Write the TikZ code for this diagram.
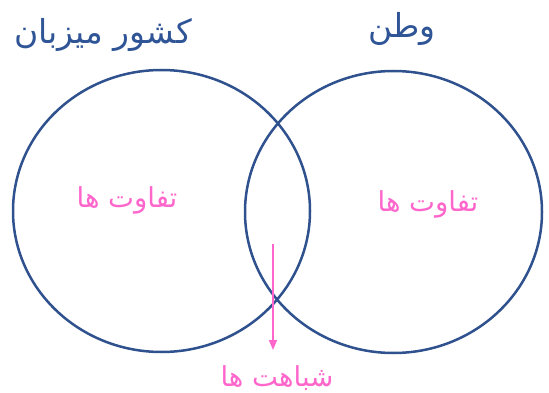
\documentclass[tikz,border=0pt]{standalone}
\usepackage{fontspec}
\usepackage{tikz}
\usetikzlibrary{shapes.geometric,arrows.meta}
\TeXXeTstate=1
\newfontfamily\arabicfont[Script=Arabic]{DejaVu Sans}
\definecolor{ringblue}{RGB}{47,82,143}
\definecolor{textblue}{RGB}{47,85,151}
\definecolor{notepink}{RGB}{255,102,204}
\tikzset{
  ring/.style={ellipse, draw=ringblue, line width=2.5pt, inner sep=0pt,
    minimum width=297pt, minimum height=282pt},
  title/.style={text=textblue, font=\arabicfont\fontsize{33}{38}\selectfont},
  note/.style={text=notepink, font=\arabicfont\fontsize{27.5}{32}\selectfont}
}
\begin{document}
\begin{tikzpicture}[x=1pt, y=1pt]
      \useasboundingbox (0, 0) rectangle (549, -393);
      \node[ring] (host) at (161.5, -211) {};
      \node[ring] (home) at (393.5, -212) {};

      \node[title] (hostname) at (103, -35) {\beginR کشور میزبان\endR};
      \node[title] (homename) at (402, -29) {\beginR وطن\endR};

      \node[note] (hostdiff) at (127, -200) {\beginR تفاوت ها\endR};
      \node[note] (homediff) at (428, -204) {\beginR تفاوت ها\endR};
      \node[note] (same) at (277, -378) {\beginR شباهت ها\endR};

      \coordinate (overlap) at (273, -244);
      \coordinate (tip) at (273, -350);
      \draw[-{Triangle[length=10pt, width=8pt]}, draw=notepink, fill=notepink, line width=1.5pt] (overlap) -- (tip);
    \end{tikzpicture}
\end{document}
